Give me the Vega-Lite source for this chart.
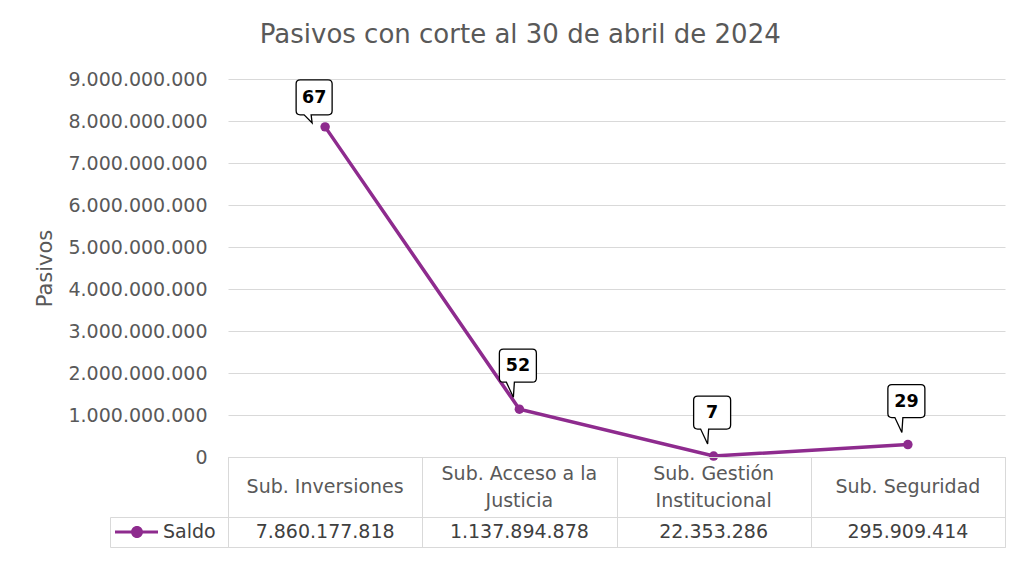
{
  "$schema": "https://vega.github.io/schema/vega-lite/v6.json",
  "padding": {"left": 34, "top": 22, "right": 6, "bottom": 10},
  "background": "white",
  "title": {
    "text": "Pasivos con corte al 30 de abril de 2024",
    "font": "DejaVu Sans",
    "fontSize": 26,
    "fontWeight": "normal",
    "color": "#595959",
    "anchor": "middle",
    "offset": 22
  },
  "data": {
    "values": [
      {"cat": "Sub. Inversiones", "label": "Sub. Inversiones", "valor": 7860177818, "n": 67},
      {"cat": "Sub. Acceso a la Justicia", "label": "Sub. Acceso a la\nJusticia", "valor": 1137894878, "n": 52},
      {"cat": "Sub. Gestión Institucional", "label": "Sub. Gestión\nInstitucional", "valor": 22353286, "n": 7},
      {"cat": "Sub. Seguridad", "label": "Sub. Seguridad", "valor": 295909414, "n": 29}
    ]
  },
  "columns": 2,
  "spacing": 0,
  "bounds": "flush",
  "align": "each",
  "concat": [
    {
      "width": 1, "height": 1,
      "view": {"stroke": null},
      "mark": {"type": "text", "text": ""},
      "encoding": {}
    },
    {
      "width": 777,
      "height": 378,
      "view": {"stroke": null},
      "encoding": {
        "x": {"field": "cat", "type": "nominal", "sort": null, "scale": {"type": "point", "padding": 0.5, "domain": ["Sub. Inversiones", "Sub. Acceso a la Justicia", "Sub. Gestión Institucional", "Sub. Seguridad"]}, "axis": null},
        "y": {
          "field": "valor", "type": "quantitative",
          "scale": {"domain": [0, 9000000000], "nice": false},
          "axis": {
            "title": "Pasivos",
            "values": [0, 1000000000, 2000000000, 3000000000, 4000000000, 5000000000, 6000000000, 7000000000, 8000000000, 9000000000],
            "format": ",.0f",
            "domain": false,
            "ticks": false,
            "labelPadding": 21,
            "labelFontSize": 19,
            "labelColor": "#595959",
            "labelFont": "DejaVu Sans",
            "titleFont": "DejaVu Sans",
            "titleFontSize": 21,
            "titleFontWeight": "normal",
            "titleColor": "#595959",
            "titlePadding": 12,
            "gridColor": "#d9d9d9",
            "gridWidth": 1
          }
        }
      },
      "layer": [
        {"mark": {"type": "line", "color": "#8E2B8E", "strokeWidth": 3.5}},
        {"mark": {"type": "point", "filled": true, "color": "#8E2B8E", "size": 90, "opacity": 1}},
        {
          "mark": {"type": "point", "fill": "white", "stroke": "#000000", "strokeWidth": 1.3, "opacity": 1, "fillOpacity": 1, "size": 40000},
          "encoding": {
            "shape": {
              "condition": {
                "test": "datum.cat === 'Sub. Inversiones'",
                "value": "M-0.25,-0.47H0.03Q0.07,-0.47,0.07,-0.43V-0.16Q0.07,-0.12,0.03,-0.12H-0.14L-0.13,-0.04L-0.21,-0.12H-0.25Q-0.29,-0.12,-0.29,-0.16V-0.43Q-0.29,-0.47,-0.25,-0.47Z"
              },
              "value": "M-0.16,-0.6H0.13Q0.17,-0.6,0.17,-0.56V-0.31Q0.17,-0.27,0.13,-0.27H-0.05L-0.06,-0.12L-0.13,-0.27H-0.16Q-0.2,-0.27,-0.2,-0.31V-0.56Q-0.2,-0.6,-0.16,-0.6Z"
            }
          }
        },
        {
          "transform": [{"filter": "datum.cat === 'Sub. Inversiones'"}],
          "mark": {"type": "text", "font": "DejaVu Sans", "fontSize": 17.5, "fontWeight": "bold", "color": "#000000", "baseline": "middle", "align": "center", "dx": -11, "dy": -29},
          "encoding": {"text": {"field": "n", "type": "quantitative"}}
        },
        {
          "transform": [{"filter": "datum.cat !== 'Sub. Inversiones'"}],
          "mark": {"type": "text", "font": "DejaVu Sans", "fontSize": 17.5, "fontWeight": "bold", "color": "#000000", "baseline": "middle", "align": "center", "dx": -1.5, "dy": -43},
          "encoding": {"text": {"field": "n", "type": "quantitative"}}
        }
      ]
    },
    {
      "width": 1, "height": 1,
      "view": {"stroke": null},
      "mark": {"type": "text", "text": ""},
      "encoding": {}
    },
    {
      "width": 777,
      "height": 60,
      "view": {"stroke": "#d9d9d9"},
      "encoding": {
        "x": {
          "field": "cat", "type": "nominal", "sort": null,
          "scale": {"type": "band", "paddingInner": 0, "paddingOuter": 0, "domain": ["Sub. Inversiones", "Sub. Acceso a la Justicia", "Sub. Gestión Institucional", "Sub. Seguridad"]},
          "axis": {"title": null, "labels": false, "ticks": false, "domain": false, "grid": true, "tickBand": "extent", "gridColor": "#d9d9d9", "gridWidth": 1}
        },
        "text": {"field": "label", "type": "nominal"}
      },
      "layer": [
        {
          "transform": [{"filter": "indexof(datum.label, '\\n') < 0"}],
          "mark": {"type": "text", "font": "DejaVu Sans", "fontSize": 19, "color": "#595959", "baseline": "middle", "align": "center"}
        },
        {
          "transform": [{"filter": "indexof(datum.label, '\\n') >= 0"}],
          "mark": {"type": "text", "font": "DejaVu Sans", "fontSize": 19, "color": "#595959", "lineBreak": "\n", "lineHeight": 27, "baseline": "middle", "align": "center", "dy": -13.5}
        }
      ]
    },
    {
      "width": 118,
      "height": 30,
      "view": {"stroke": "#d9d9d9"},
      "data": {"values": [{"serie": "Saldo"}]},
      "layer": [
        {
          "mark": {"type": "point", "filled": true, "color": "#8E2B8E", "opacity": 1, "size": 40000, "xOffset": -32,
            "shape": "M-0.22,-0.015H0.21V0.015H-0.22ZM-0.06,0A0.06,0.06,0,1,1,0.06,0A0.06,0.06,0,1,1,-0.06,0Z"},
          "encoding": {}
        },
        {
          "mark": {"type": "text", "font": "DejaVu Sans", "fontSize": 19, "color": "#404040", "align": "left", "baseline": "middle", "dx": -6},
          "encoding": {"text": {"field": "serie", "type": "nominal"}}
        }
      ]
    },
    {
      "width": 777,
      "height": 30,
      "view": {"stroke": "#d9d9d9"},
      "mark": {"type": "text", "font": "DejaVu Sans", "fontSize": 19, "color": "#404040", "baseline": "middle", "align": "center"},
      "encoding": {
        "x": {
          "field": "cat", "type": "nominal", "sort": null,
          "scale": {"type": "band", "paddingInner": 0, "paddingOuter": 0, "domain": ["Sub. Inversiones", "Sub. Acceso a la Justicia", "Sub. Gestión Institucional", "Sub. Seguridad"]},
          "axis": {"title": null, "labels": false, "ticks": false, "domain": false, "grid": true, "tickBand": "extent", "gridColor": "#d9d9d9", "gridWidth": 1}
        },
        "text": {"field": "valor", "type": "quantitative", "format": ",.0f"}
      }
    }
  ],
  "config": {
    "locale": {"number": {"decimal": ",", "thousands": ".", "grouping": [3], "currency": ["$", ""]}},
    "view": {"stroke": null},
    "font": "DejaVu Sans"
  }
}
